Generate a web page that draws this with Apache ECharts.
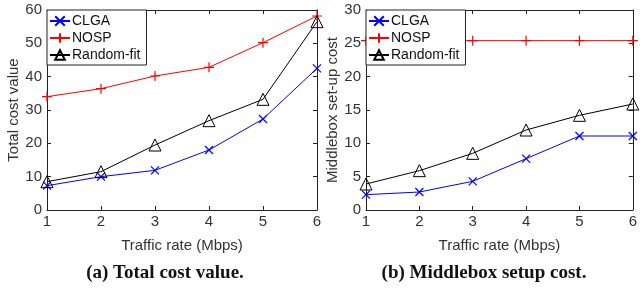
<!DOCTYPE html>
<html>
<head>
<meta charset="utf-8">
<script src="https://cdn.jsdelivr.net/npm/echarts@6/dist/echarts.min.js"></script>
<style>
  html, body { margin: 0; padding: 0; background: #fff; }
  #chart { width: 640px; height: 291px; }
</style>
</head>
<body>
<div id="chart"></div>
<script>
// data
var rates = ['1', '2', '3', '4', '5', '6'];
var totalClga = [7.3, 10, 11.9, 18, 27.3, 42.5];
var totalNosp = [34, 36.4, 40.2, 42.8, 50.2, 58.2];
var totalRandom = [8.5, 11.5, 19.5, 26.8, 33.2, 56.5];
var setupClga = [2.3, 2.7, 4.3, 7.7, 11.1, 11.1];
var setupNosp = [25.4, 25.4, 25.4, 25.4, 25.4, 25.4];
var setupRandom = [3.9, 5.9, 8.5, 12, 14.2, 15.9];

var crossPath = 'path://M0,0L10,10M10,0L0,10';
var plusPath = 'path://M5,0L5,10M0,5L10,5';
var fnt = 'Liberation Sans, Arial, sans-serif';

function xAx(grid, show) {
  return {
    type: 'value', gridIndex: grid, min: 1, max: 6, interval: 1,
    position: show ? 'bottom' : 'top',
    name: show ? 'Traffic rate (Mbps)' : '', nameLocation: 'middle', nameGap: 28,
    nameTextStyle: { fontFamily: fnt, fontSize: 15, color: '#333' },
    axisLine: { show: true, onZero: false, lineStyle: { color: '#222', width: 1 } },
    axisTick: { show: true, inside: true, length: 4, lineStyle: { color: '#222' } },
    axisLabel: { show: show, fontFamily: fnt, fontSize: 15, color: '#333', margin: 4 },
    splitLine: { show: false }
  };
}
function yAx(grid, max, step, name, show) {
  return {
    type: 'value', gridIndex: grid, min: 0, max: max, interval: step,
    position: show ? 'left' : 'right',
    name: show ? name : '', nameLocation: 'middle', nameGap: 24,
    nameTextStyle: { fontFamily: fnt, fontSize: 15, color: '#333' },
    axisLine: { show: true, onZero: false, lineStyle: { color: '#222', width: 1 } },
    axisTick: { show: true, inside: true, length: 4, lineStyle: { color: '#222' } },
    axisLabel: { show: show, fontFamily: fnt, fontSize: 15, color: '#333', margin: 5 },
    splitLine: { show: false }
  };
}
function pairs(vals) {
  return vals.map(function (v, i) { return [Number(rates[i]), v]; });
}
function mk(name, vals, xi, yi) {
  var s = { name: name, type: 'line', xAxisIndex: xi, yAxisIndex: yi, data: pairs(vals), animation: false };
  if (name === 'CLGA') {
    s.symbol = crossPath; s.symbolSize = 8;
    s.lineStyle = { color: '#0000ff', width: 1 };
    s.itemStyle = { color: '#0000ff', borderColor: '#0000ff', borderWidth: 1.2 };
  } else if (name === 'NOSP') {
    s.symbol = plusPath; s.symbolSize = 10;
    s.lineStyle = { color: '#ff0000', width: 1 };
    s.itemStyle = { color: '#ff0000', borderColor: '#ff0000', borderWidth: 1.2 };
  } else {
    s.symbol = 'triangle'; s.symbolSize = 12;
    s.lineStyle = { color: '#000', width: 1 };
    s.itemStyle = { color: 'rgba(255,255,255,0)', borderColor: '#000', borderWidth: 1 };
  }
  return s;
}
function leg(left) {
  return {
    left: left, top: 10, orient: 'vertical', itemGap: 3, itemWidth: 20, itemHeight: 12,
    padding: [4, 6, 3, 2], borderColor: '#222', borderWidth: 1, backgroundColor: '#fff',
    textStyle: { fontFamily: fnt, fontSize: 14, color: '#111', padding: [0, 0, 0, -3] },
    data: ['CLGA', 'NOSP', 'Random-fit']
  };
}

var chart = echarts.init(document.getElementById('chart'), null, { renderer: 'canvas' });
chart.setOption({
  backgroundColor: '#fff',
  animation: false,
  grid: [
    { left: 47, top: 10, width: 270, height: 200 },
    { left: 366, top: 10, width: 270, height: 200 }
  ],
  xAxis: [xAx(0, true), xAx(0, false), xAx(1, true), xAx(1, false)],
  yAxis: [
    yAx(0, 60, 10, 'Total cost value', true), yAx(0, 60, 10, '', false),
    yAx(1, 30, 5, 'Middlebox set-up cost', true), yAx(1, 30, 5, '', false)
  ],
  legend: [leg(47), leg(366)],
  series: [
    mk('CLGA', totalClga, 0, 0), mk('NOSP', totalNosp, 0, 0), mk('Random-fit', totalRandom, 0, 0),
    mk('CLGA', setupClga, 2, 2), mk('NOSP', setupNosp, 2, 2), mk('Random-fit', setupRandom, 2, 2)
  ],
  graphic: [
    { type: 'text', x: 165, y: 273, style: { text: '(a) Total cost value.', align: 'center', verticalAlign: 'middle', font: 'bold 19px "Liberation Serif", "DejaVu Serif", serif', fill: '#111' } },
    { type: 'text', x: 484, y: 273, style: { text: '(b) Middlebox setup cost.', align: 'center', verticalAlign: 'middle', font: 'bold 19px "Liberation Serif", "DejaVu Serif", serif', fill: '#111' } }
  ]
});
</script>
</body>
</html>
